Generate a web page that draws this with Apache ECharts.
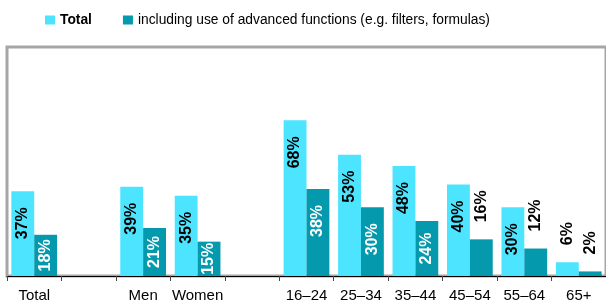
<!DOCTYPE html>
<html>
<head>
<meta charset="utf-8">
<script src="https://cdn.jsdelivr.net/npm/echarts@6/dist/echarts.min.js"></script>
<style>
  html, body { margin: 0; padding: 0; background: #fff; }
  #chart { width: 606px; height: 303px; }
</style>
</head>
<body>
<div id="chart"></div>
<script>
// categories (empty strings are spacer slots in the original layout)
const categories = ["Total", "", "Men", "Women", "", "16–24", "25–34", "35–44", "45–54", "55–64", "65+"];
const totalValues = [37, null, 39, 35, null, 68, 53, 48, 40, 30, 6];
const advancedValues = [18, null, 21, 15, null, 38, 30, 24, 16, 12, 2];

const seriesNames = ["Total", "including use of advanced functions (e.g. filters, formulas)"];

const LIGHT = "#4ce4ff";
const DARK = "#0599ae";
const FONT = "Liberation Sans, Arial, sans-serif";

// label placement: tall bars get label near top, short ones centered, tiny ones above
function labelFor(value, isDark, outside) {
  const base = {
    show: true,
    rotate: 90,
    fontFamily: FONT,
    fontWeight: "bold",
    fontSize: 16,
    formatter: "{c}%",
    verticalAlign: "middle"
  };
  if (outside) {
    return Object.assign(base, { position: "top", distance: 17, align: "left", color: "#000" });
  }
  const color = isDark ? "#fff" : "#000";
  if (value >= 28) {
    return Object.assign(base, { position: "insideTop", distance: 16, align: "right", color });
  }
  return Object.assign(base, { position: "inside", align: "center", color });
}

const outsideTotal = [10];
const outsideAdvanced = [8, 9, 10];

function buildData(values, isDark, outsideIdx) {
  return values.map((v, i) => v == null ? null : {
    value: v,
    label: labelFor(v, isDark, outsideIdx.includes(i))
  });
}

const chart = echarts.init(document.getElementById("chart"));

chart.setOption({
  animation: false,
  legend: {
    top: 8,
    left: 40,
    itemWidth: 10,
    itemHeight: 9,
    itemGap: 31,
    icon: "rect",
    textStyle: {
      fontFamily: FONT,
      fontSize: 13.8,
      color: "#000"
    },
    data: [
      { name: seriesNames[0], textStyle: { fontWeight: "bold" } },
      { name: seriesNames[1] }
    ]
  },
  grid: {
    left: 7,
    top: 47,
    width: 601,
    height: 230,
    show: true,
    borderColor: "#a6a6a6",
    borderWidth: 3
  },
  xAxis: {
    type: "category",
    data: categories,
    z: 5,
    axisLine: { lineStyle: { color: "#000", width: 1 } },
    axisTick: { show: true, interval: 0, length: 5, lineStyle: { color: "#444" } },
    axisLabel: {
      interval: 0,
      margin: 12,
      fontFamily: FONT,
      fontSize: 15,
      color: "#000"
    }
  },
  yAxis: {
    type: "value",
    min: 0,
    max: 100,
    show: false,
    splitLine: { show: false }
  },
  series: [
    {
      name: seriesNames[0],
      type: "bar",
      barGap: "0%",
      barCategoryGap: "16%",
      itemStyle: { color: LIGHT },
      data: buildData(totalValues, false, outsideTotal)
    },
    {
      name: seriesNames[1],
      type: "bar",
      itemStyle: { color: DARK },
      data: buildData(advancedValues, true, outsideAdvanced)
    }
  ]
});
</script>
</body>
</html>
